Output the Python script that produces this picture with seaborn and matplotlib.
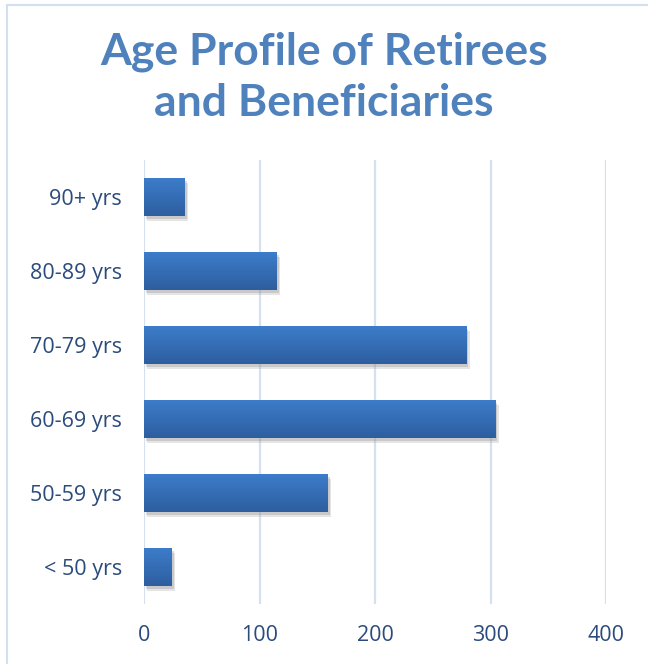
import numpy as np
import pandas as pd
import matplotlib
matplotlib.use("Agg")
import matplotlib.pyplot as plt
import matplotlib.patheffects as pe
from matplotlib.colors import LinearSegmentedColormap
from matplotlib.lines import Line2D
import seaborn as sns

categories = ["90+ yrs", "80-89 yrs", "70-79 yrs", "60-69 yrs", "50-59 yrs", "< 50 yrs"]
counts = [35, 115, 279, 304, 159, 24]
xticks = [0, 100, 200, 300, 400]
title = "Age Profile of Retirees\nand Beneficiaries"

df = pd.DataFrame({"age": categories, "count": counts})

sns.set_theme(style="white")
plt.rcParams["font.family"] = ["Open Sans", "DejaVu Sans"]

fig = plt.figure(figsize=(6.48, 6.64), dpi=100)
ax = fig.add_axes([144/648, 1-604/664, (606-144)/648, (604-160)/664])

sns.barplot(data=df, x="count", y="age", order=categories, orient="h",
            color="#3A74BF", width=0.52, ax=ax, saturation=1)

cmap = LinearSegmentedColormap.from_list("g", ["#3D7DCB", "#2D5E9F"])
grad = np.linspace(0, 1, 256).reshape(-1, 1)
for p in ax.patches:
    x0, y0 = p.get_x(), p.get_y()
    w, h = p.get_width(), p.get_height()
    p.set_path_effects([
        pe.SimplePatchShadow(offset=(2.5, -3.5), shadow_rgbFace="#9a9a9a", alpha=0.25),
        pe.SimplePatchShadow(offset=(1.5, -2), shadow_rgbFace="#8a8a8a", alpha=0.3),
        pe.Normal()])
    p.set_edgecolor("none")
    im = ax.imshow(grad, cmap=cmap, aspect="auto", extent=[x0, x0 + w, y0 + h, y0],
                   zorder=p.get_zorder() + 0.1, interpolation="bilinear")
    im.set_clip_path(p)

ax.set_xlim(0, 400)
ax.set_ylim(5.5, -0.5)
ax.set_xticks(xticks)
ax.set_xticklabels([str(t) for t in xticks])
ax.set_xlabel("")
ax.set_ylabel("")
ax.grid(axis="x", color="#D6E1EF", linewidth=1.6)
ax.set_axisbelow(True)
for s in ax.spines.values():
    s.set_visible(False)
ax.tick_params(axis="both", length=0, labelsize=15.5, colors="#2A4B7C")
ax.tick_params(axis="x", pad=15)
ax.tick_params(axis="y", pad=16)

fig.text(0.5, 1-52/664, "Age Profile of Retirees", ha="center", va="center",
         fontsize=32, fontweight="bold", color="#4F81BD", family=["Lato", "DejaVu Sans"])
fig.text(0.5, 1-103/664, "and Beneficiaries", ha="center", va="center",
         fontsize=32, fontweight="bold", color="#4F81BD", family=["Lato", "DejaVu Sans"])

fig.add_artist(Line2D([6.5/648, 6.5/648], [0, 1-4.5/664], transform=fig.transFigure, color="#D3E0F0", lw=1.5))
fig.add_artist(Line2D([6.5/648, 1], [1-4.5/664, 1-4.5/664], transform=fig.transFigure, color="#D3E0F0", lw=1.5))

fig.savefig("out.png", dpi=100, facecolor="white")
